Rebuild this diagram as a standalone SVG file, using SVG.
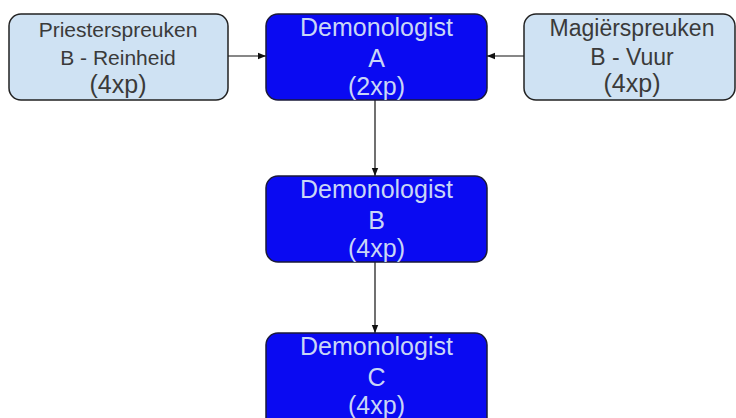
<svg xmlns="http://www.w3.org/2000/svg" width="736" height="418" viewBox="0 0 736 418">
  <defs>
    <marker id="ah" viewBox="0 0 10 10" refX="10" refY="5" markerWidth="8" markerHeight="8" markerUnits="userSpaceOnUse" orient="auto">
      <path d="M0,1 L10,5 L0,9 z" fill="#111"/>
    </marker>
    <style>
      .light { fill: #cfe2f3; stroke: #222; stroke-width: 1.5; }
      .dark { fill: #0a0af2; stroke: #1a1a3a; stroke-width: 1.5; }
      .t { font-family: "Liberation Sans", Arial, sans-serif; text-anchor: middle; }
      .tl { fill: #3a3a3a; }
      .td { fill: #c9d6f6; font-size: 25px; }
      .edge { stroke: #111; stroke-width: 1.2; fill: none; marker-end: url(#ah); }
    </style>
  </defs>
  <rect width="736" height="418" fill="#ffffff"/>
  <g id="connectors">
    <line class="edge" x1="228" y1="56" x2="266" y2="56"/>
    <line class="edge" x1="524" y1="56" x2="487" y2="56"/>
    <line class="edge" x1="375" y1="100" x2="375" y2="176"/>
    <line class="edge" x1="375" y1="262" x2="375" y2="333"/>
  </g>
  <g id="priesterspreuken">
    <rect class="light" x="9" y="14" width="219" height="86" rx="12"/>
    <text class="t tl" x="118" y="37" font-size="21">Priesterspreuken</text>
    <text class="t tl" x="118" y="65" font-size="21">B - Reinheid</text>
    <text class="t tl" x="118" y="93" font-size="25">(4xp)</text>
  </g>
  <g id="demonologist-a">
    <rect class="dark" x="266" y="14" width="221" height="86" rx="12"/>
    <text class="t td" x="376.5" y="36">Demonologist</text>
    <text class="t td" x="376.5" y="67">A</text>
    <text class="t td" x="376.5" y="95">(2xp)</text>
  </g>
  <g id="magierspreuken">
    <rect class="light" x="524" y="14" width="211" height="86" rx="12"/>
    <text class="t tl" x="632" y="36" font-size="23">Magiërspreuken</text>
    <text class="t tl" x="632" y="65" font-size="23">B - Vuur</text>
    <text class="t tl" x="632" y="92" font-size="25">(4xp)</text>
  </g>
  <g id="demonologist-b">
    <rect class="dark" x="266" y="176" width="221" height="86" rx="12"/>
    <text class="t td" x="376.5" y="198">Demonologist</text>
    <text class="t td" x="376.5" y="229">B</text>
    <text class="t td" x="376.5" y="257">(4xp)</text>
  </g>
  <g id="demonologist-c">
    <rect class="dark" x="266" y="333" width="221" height="100" rx="12"/>
    <text class="t td" x="376.5" y="355">Demonologist</text>
    <text class="t td" x="376.5" y="386">C</text>
    <text class="t td" x="376.5" y="414">(4xp)</text>
  </g>
</svg>
